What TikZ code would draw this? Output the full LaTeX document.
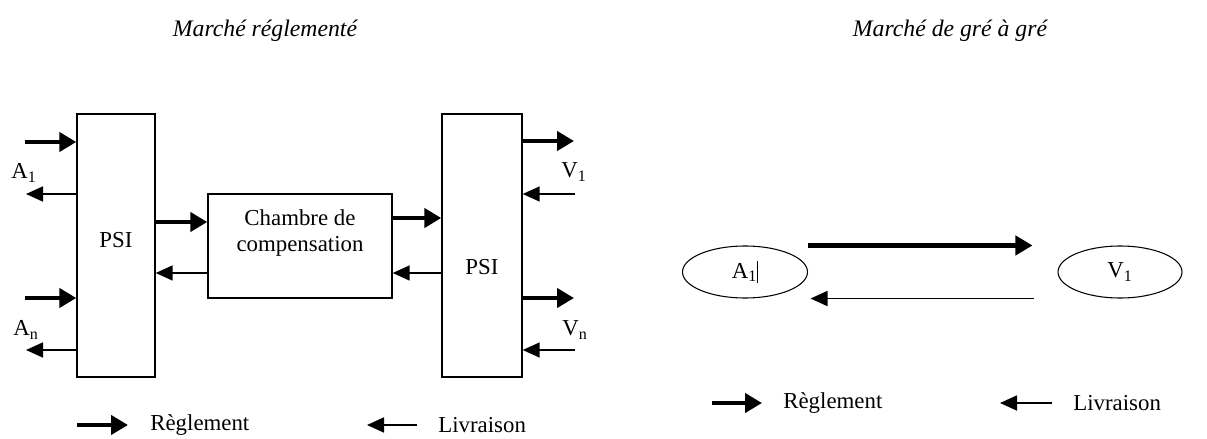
\documentclass[tikz,border=0pt]{standalone}
\usepackage{fontspec}
\setmainfont{Liberation Serif}
\usetikzlibrary{
    arrows.meta,
    positioning,
    calc,
    shapes.geometric
}
\tikzset{
  box/.style   = {draw, line width=0.8pt, font=\fontsize{13}{15}\selectfont},
  oval/.style  = {draw, ellipse, line width=0.6pt, minimum width=2.5cm,
                  minimum height=1.04cm, font=\fontsize{13}{15}\selectfont},
  lbl/.style   = {inner sep=0pt, font=\fontsize{13}{15}\selectfont},
  ttl/.style   = {inner sep=0pt, font=\fontsize{13.5}{16}\selectfont\itshape},
  fat/.style   = {-{Triangle[length=0.34cm,width=0.38cm]}, line width=2.6pt},
  slim/.style  = {-{Triangle[length=0.34cm,width=0.3cm]}, line width=1pt}
}

\begin{document}
\begin{tikzpicture}
\useasboundingbox (0,0) rectangle (24.14,-8.78);
% titles
\node[ttl] (t1) at (5.3,-0.62) {Marché réglementé};
\node[ttl] (t2) at (19.0,-0.62) {Marché de gré à gré};

% marche reglemente
\node[box,minimum width=1.56cm,minimum height=5.26cm,
      label={[lbl,yshift=0.1cm]center:PSI}] (psiL) at (2.32,-4.91) {};
\node[box,minimum width=3.68cm,minimum height=2.08cm,
      label={[lbl,align=center,yshift=0.26cm]center:Chambre de\\compensation}] (chambre) at (6.0,-4.92) {};
\node[box,minimum width=1.6cm,minimum height=5.26cm,
      label={[lbl,yshift=-0.44cm]center:PSI}] (psiR) at (9.64,-4.91) {};

\coordinate (a1in) at (0.5,-2.84);
\coordinate (a1out) at (0.52,-3.88);
\coordinate (anin) at (0.5,-5.96);
\coordinate (anout) at (0.52,-7.0);
\node[lbl] (a1) at (0.48,-3.46) {A\textsubscript{1}};
\node[lbl] (an) at (0.52,-6.6) {A\textsubscript{n}};
\draw[fat] (a1in) -- (a1in -| psiL.west);
\draw[slim] (a1out -| psiL.west) -- (a1out);
\draw[fat] (anin) -- (anin -| psiL.west);
\draw[slim] (anout -| psiL.west) -- (anout);

\coordinate (cin) at ($(chambre.west)+(0,0.48)$);
\coordinate (cout) at ($(chambre.west)+(0,-0.54)$);
\draw[fat] (cin -| psiL.east) -- (cin);
\draw[slim] (cout) -- (cout -| psiL.east);
\coordinate (pin) at ($(chambre.east)+(0,0.56)$);
\coordinate (pout) at ($(chambre.east)+(0,-0.54)$);
\draw[fat] (pin) -- (pin -| psiR.west);
\draw[slim] (pout -| psiR.west) -- (pout);

\coordinate (v1out) at (11.48,-2.82);
\coordinate (v1in) at (11.5,-3.88);
\coordinate (vnout) at (11.48,-5.96);
\coordinate (vnin) at (11.5,-7.0);
\node[lbl] (v1) at (11.48,-3.44) {V\textsubscript{1}};
\node[lbl] (vn) at (11.5,-6.6) {V\textsubscript{n}};
\draw[fat] (v1out -| psiR.east) -- (v1out);
\draw[slim] (v1in) -- (v1in -| psiR.east);
\draw[fat] (vnout -| psiR.east) -- (vnout);
\draw[slim] (vnin) -- (vnin -| psiR.east);

% legend left
\node[lbl,anchor=west] (regl1) at (3.0,-8.5) {Règlement};
\node[lbl,anchor=west] (livr1) at (8.76,-8.5) {Livraison};
\draw[fat] ([xshift=-1.46cm]regl1.west) -- ([xshift=-0.44cm]regl1.west);
\draw[slim] ([xshift=-0.42cm]livr1.west) -- ([xshift=-1.42cm]livr1.west);

% marche de gre a gre
\node[oval] (ea) at (14.9,-5.44) {A\textsubscript{1}\rule[-3pt]{0.6pt}{13pt}};
\node[oval,minimum width=2.48cm] (ev) at (22.4,-5.44) {V\textsubscript{1}};
\coordinate (gtop) at (ev.west |- ea.north);
\coordinate (gbot) at (ev.west |- ea.south);
\draw[fat] (ea.north -| ea.east) -- ([xshift=-0.5cm]gtop);
\draw[slim] ([xshift=-0.46cm]gbot) -- ([xshift=0.05cm]ea.south -| ea.east);

% legend right
\node[lbl,anchor=west] (regl2) at (15.66,-8.06) {Règlement};
\node[lbl,anchor=west] (livr2) at (21.46,-8.06) {Livraison};
\draw[fat] ([xshift=-1.42cm]regl2.west) -- ([xshift=-0.42cm]regl2.west);
\draw[slim] ([xshift=-0.42cm]livr2.west) -- ([xshift=-1.46cm]livr2.west);
\end{tikzpicture}
\end{document}
